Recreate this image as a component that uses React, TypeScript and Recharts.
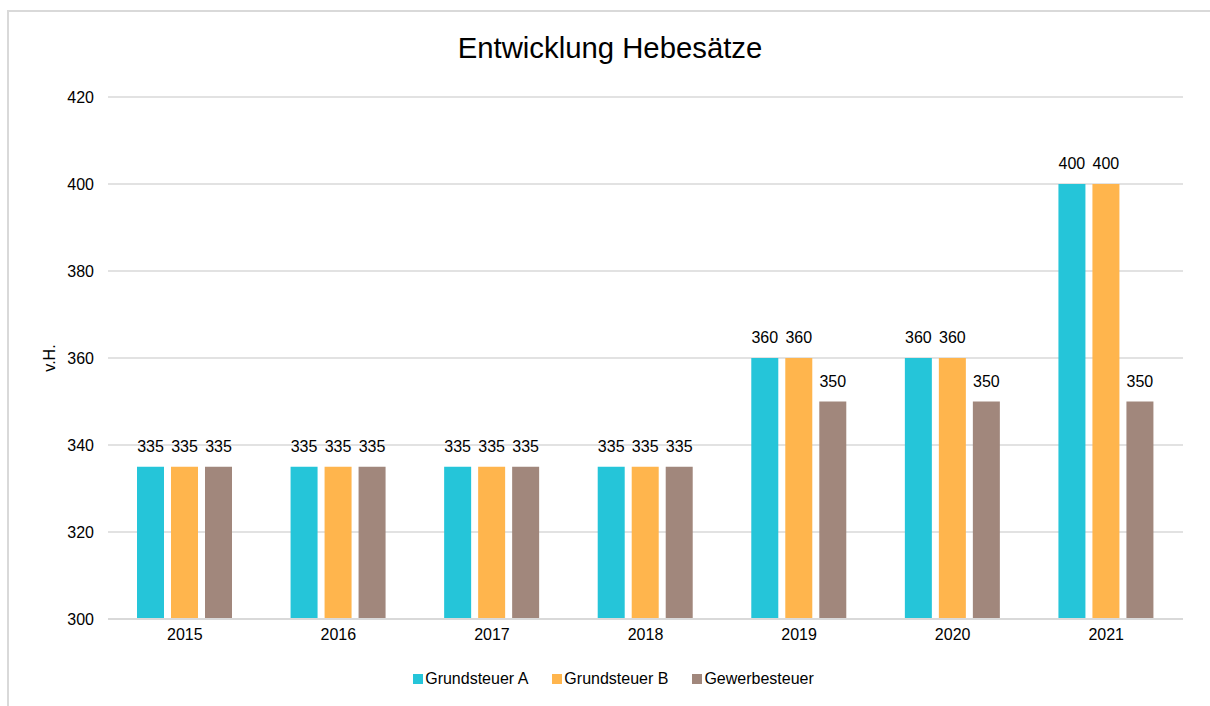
import { BarChart, Bar, XAxis, YAxis, CartesianGrid, Legend, LabelList } from "recharts";

const years = ["2015", "2016", "2017", "2018", "2019", "2020", "2021"];
const grundsteuerA = [335, 335, 335, 335, 360, 360, 400];
const grundsteuerB = [335, 335, 335, 335, 360, 360, 400];
const gewerbesteuer = [335, 335, 335, 335, 350, 350, 350];
const yTicks = [300, 320, 340, 360, 380, 400, 420];

const series = [
  { key: "a", name: "Grundsteuer A", color: "#25C5D9" },
  { key: "b", name: "Grundsteuer B", color: "#FFB54D" },
  { key: "c", name: "Gewerbesteuer", color: "#A1877C" },
];

const data = years.map((year, i) => ({
  year,
  a: grundsteuerA[i],
  b: grundsteuerB[i],
  c: gewerbesteuer[i],
}));

const font = "'Liberation Sans', Arial, sans-serif";
const fs = 16;

function LegendBox() {
  return (
    <div style={{ display: "flex", justifyContent: "center", gap: 24, paddingLeft: 4, fontFamily: font, fontSize: 16, color: "#000", lineHeight: "20px" }}>
      {series.map((s) => (
        <div key={s.key} style={{ display: "flex", alignItems: "center" }}>
          <span style={{ width: 10, height: 10, background: s.color, marginRight: 2, display: "inline-block" }} />
          <span>{s.name}</span>
        </div>
      ))}
    </div>
  );
}

export default function App() {
  return (
    <div style={{ position: "absolute", left: 0, top: 0, width: 1210, height: 706, overflow: "hidden", fontFamily: font }}>
      <div
        style={{
          position: "absolute",
          left: 7,
          top: 10,
          width: 1300,
          height: 800,
          border: "2px solid #d9d9d9",
          boxSizing: "border-box",
        }}
      />
      <div style={{ position: "absolute", left: 5, top: 48, width: 1210, textAlign: "center", fontSize: 29.3, color: "#000", transform: "translateY(-50%)" }}>
        Entwicklung Hebesätze
      </div>
      <div style={{ position: "absolute", left: 0, top: 0 }}>
        <BarChart
          width={1210}
          height={706}
          data={data}
          margin={{ top: 97, right: 27, bottom: 17, left: 40 }}
          barSize={27}
          barGap={7}
          barCategoryGap="19%"
        >
          <CartesianGrid vertical={false} stroke="#d9d9d9" strokeWidth={1.5} />
          <XAxis
            dataKey="year"
            height={50}
            tickLine={false}
            axisLine={{ stroke: "#d9d9d9", strokeWidth: 2 }}
            tick={{ fill: "#000", fontSize: fs, fontFamily: font }}
            tickMargin={4}
          />
          <YAxis
            width={68}
            domain={[300, 420]}
            ticks={yTicks}
            allowDataOverflow
            tickLine={false}
            axisLine={false}
            tick={{ fill: "#000", fontSize: fs, fontFamily: font }}
            tickMargin={8}
            label={{ value: "v.H.", angle: -90, position: "insideLeft", dx: 4, fill: "#000", fontSize: fs, fontFamily: font, style: { textAnchor: "middle" } }}
          />
          <Legend verticalAlign="bottom" align="center" height={20} content={() => <LegendBox />} />
          {series.map((s) => (
            <Bar key={s.key} dataKey={s.key} name={s.name} fill={s.color} isAnimationActive={false}>
              <LabelList dataKey={s.key} position="top" offset={15} fill="#000" fontSize={fs} fontFamily={font} />
            </Bar>
          ))}
        </BarChart>
      </div>
    </div>
  );
}
